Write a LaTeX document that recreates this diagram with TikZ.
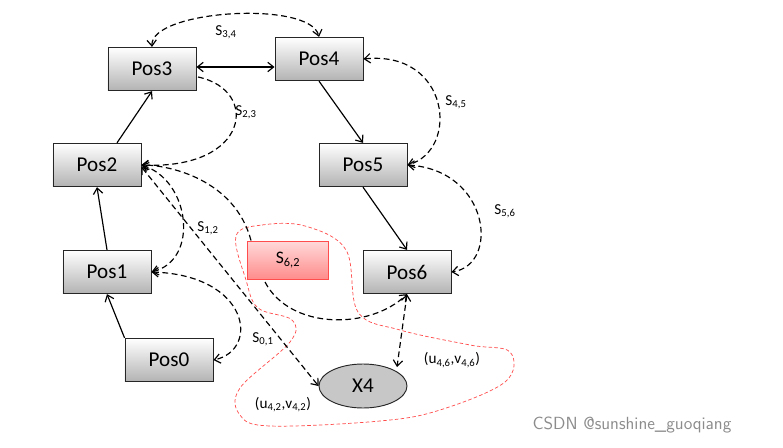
\documentclass[tikz,border=0pt]{standalone}
\usepackage{fontspec}
\setmainfont{Carlito}
\usetikzlibrary{arrows.meta,shapes.geometric}
\begin{document}
\begin{tikzpicture}[x=0.03cm,y=-0.03cm,
  box/.style={draw=black!85,line width=0.8pt,top color=white,bottom color=black!30,minimum width=2.64cm,minimum height=1.3cm,font=\fontsize{18}{20}\selectfont,inner sep=0pt},
  sol/.style={line width=1pt,-{Straight Barb[length=5pt,width=8pt]}},
  dsh/.style={line width=1pt,dash pattern=on 5pt off 3pt,{Straight Barb[length=5pt,width=8pt]}-{Straight Barb[length=5pt,width=8pt]}},
  dsr/.style={line width=1pt,dash pattern=on 5pt off 3pt,-{Straight Barb[length=5pt,width=8pt]}},
  lab/.style={font=\fontsize{13}{15}\selectfont,inner sep=1pt}]
\useasboundingbox (0,0) rectangle (783,448);
\fill[white] (0,0) rectangle (783,448);
% red region
\draw[red!70,densely dashed,line width=0.6pt] plot[smooth cycle,tension=0.6] coordinates {(236,236) (262,225) (305,226) (346,250) (358,312) (400,330) (470,345) (510,352) (505,382) (440,410) (380,421) (270,426) (240,415) (240,388) (290,342) (292,320) (258,308) (246,280)};
\node[box] (p3) at (152,69) {Pos3};
\node[box] (p4) at (319,59) {Pos4};
\node[box] (p2) at (97,165) {Pos2};
\node[box] (p5) at (363,165) {Pos5};
\node[box] (p1) at (107,272) {Pos1};
\node[box] (p6) at (407,272) {Pos6};
\node[box] (p0) at (169,360) {Pos0};
\node[draw=red!70,line width=0.8pt,top color=red!15,bottom color=red!45,minimum width=2.43cm,minimum height=1.14cm,font=\fontsize{15}{17}\selectfont,inner sep=0pt] (s62) at (288,260) {S\textsubscript{6,2}};
\node[ellipse,draw=black!85,line width=0.8pt,fill=black!22,minimum width=2.64cm,minimum height=1.32cm,inner sep=0pt,font=\fontsize{18}{20}\selectfont] (x4) at (363,386) {X4};
% solid
\draw[sol] (p0.north west) ++(0,0) -- (p1.south);
\draw[sol] (p1.north) -- (p2.south);
\draw[sol] (p2.north) ++(20,0) -- (p3.south);
\draw[line width=1pt,{Straight Barb[length=5pt,width=8pt]}-{Straight Barb[length=5pt,width=8pt]}] (p3.east) ++(0,-2) -- (p4.west |- 0,67);
\draw[sol] (p4.south) -- (p5.north);
\draw[sol] (p5.south) -- (p6.north);
% dashed
\draw[dsh] (p3.north) .. controls (150,10) and (310,0) .. (p4.north);
\draw[dsr] (198,77) .. controls (260,90) and (250,170) .. (p2.east);
\draw[dsh] (p4.east) .. controls (450,50) and (460,150) .. (p5.east);
\draw[dsh] (p5.east) .. controls (490,170) and (500,265) .. (p6.east);
\draw[dsh] (p2.east) .. controls (190,180) and (200,260) .. (p1.east);
\draw[dsh] (p1.east) .. controls (250,275) and (260,350) .. (p0.east);
\draw[dsr] (s62.north west) ++(4,0) .. controls (235,180) and (170,165) .. (p2.east);
\draw[dsr] (265,282) .. controls (290,330) and (370,330) .. (p6.south);
\draw[dsh] (p2.east) ++(0,2) -- (x4.west);
\draw[dsh] (p6.south) -- (397,367);
% labels
\node[lab] (l34) at (226,32) {S\textsubscript{3,4}};
\node[lab] (l23) at (246,112) {S\textsubscript{2,3}};
\node[lab] (l45) at (456,102) {S\textsubscript{4,5}};
\node[lab] (l56) at (505,211) {S\textsubscript{5,6}};
\node[lab] (l12) at (208,228) {S\textsubscript{1,2}};
\node[lab] (l01) at (263,339) {S\textsubscript{0,1}};
\node[lab] (u46) at (452,360) {(u\textsubscript{4,6},v\textsubscript{4,6})};
\node[lab] (u42) at (283,405) {(u\textsubscript{4,2},v\textsubscript{4,2})};
\node[font=\fontsize{15}{17}\selectfont\sffamily,text=black!45] (wm) at (632,425) {CSDN @sunshine\_guoqiang};
\end{tikzpicture}
\end{document}
